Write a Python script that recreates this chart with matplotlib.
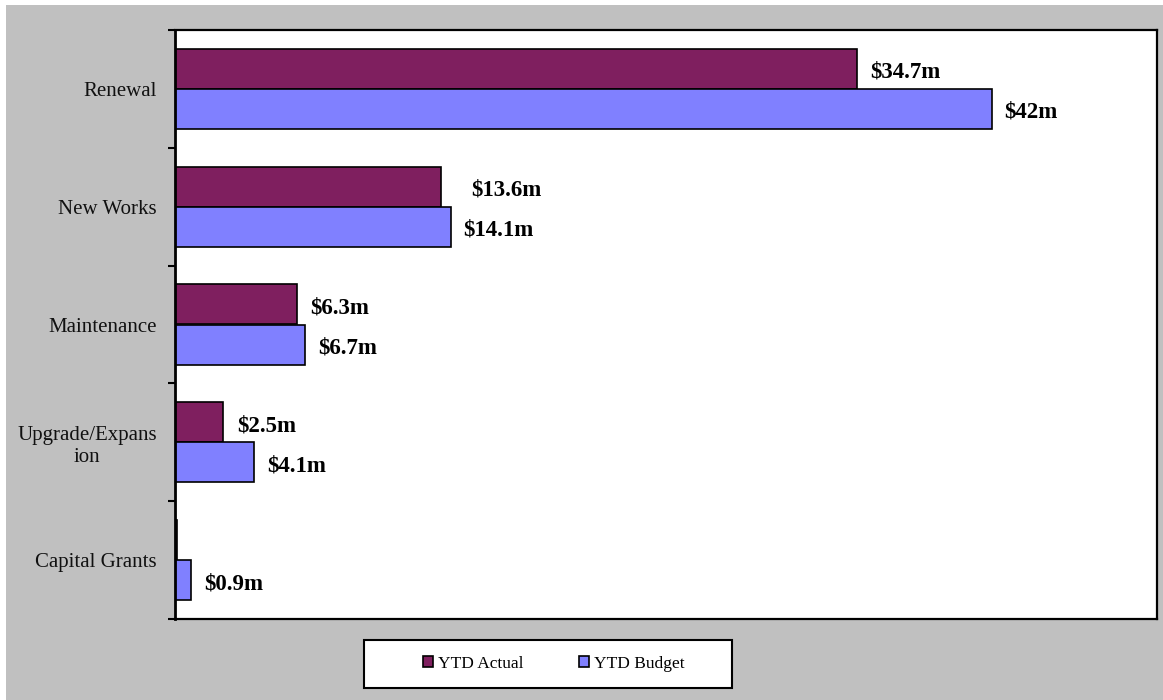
import numpy as np
import matplotlib
matplotlib.use("Agg")
from matplotlib import pyplot as plt
from matplotlib.patches import Rectangle

plt.rcParams["font.family"] = ["Liberation Serif", "DejaVu Serif"]

categories = ["Renewal", "New Works", "Maintenance", "Upgrade/Expans\nion", "Capital Grants"]
ytd_actual = [34.7, 13.55, 6.2, 2.45, 0.1]
ytd_budget = [41.6, 14.05, 6.6, 4.0, 0.8]
actual_labels = ["$34.7m", "$13.6m", "$6.3m", "$2.5m", ""]
budget_labels = ["$42m", "$14.1m", "$6.7m", "$4.1m", "$0.9m"]
actual_pad = [10, 22, 10, 10, 10]  # points right of bar end
budget_pad = [9, 9, 10, 10, 10]

c_actual = "#7F1F5F"
c_budget = "#8080FF"

fig = plt.figure(figsize=(11.63, 7.0), dpi=100)
fig.patch.set_facecolor("white")
# grey chart area (thin white strip at top/left)
fig.patches.append(Rectangle((6 / 1163, 0), 1, 1 - 5 / 700, transform=fig.transFigure,
                             facecolor="#C0C0C0", edgecolor="none", zorder=-10))

ax = fig.add_axes([175 / 1163, 1 - 619 / 700, (1157 - 175) / 1163, (619 - 30) / 700])
ax.set_facecolor("white")

y = np.arange(len(categories))
h = 0.34
ax.barh(y - h / 2, ytd_actual, height=h, color=c_actual, edgecolor="black", linewidth=1.2, label="YTD Actual")
ax.barh(y + h / 2, ytd_budget, height=h, color=c_budget, edgecolor="black", linewidth=1.2, label="YTD Budget")

for i in range(len(categories)):
    if actual_labels[i]:
        ax.annotate(actual_labels[i], (ytd_actual[i], y[i] - h / 2), xytext=(actual_pad[i], -2.5),
                    textcoords="offset points", va="center", ha="left", fontsize=16.5, fontweight="bold")
    ax.annotate(budget_labels[i], (ytd_budget[i], y[i] + h / 2), xytext=(budget_pad[i], -2.5),
                textcoords="offset points", va="center", ha="left", fontsize=16.5, fontweight="bold")

ax.set_xlim(0, 50)
ax.set_ylim(len(categories) - 0.5, -0.5)
ax.set_xticks([])
ax.set_yticks(np.arange(len(categories) + 1) - 0.5)
ax.set_yticklabels([])
ax.set_yticks(y, minor=True)
ax.set_yticklabels(categories, minor=True, fontsize=15, color="#111111", multialignment="center")
ax.tick_params(axis="y", which="major", length=5, width=1.5, direction="out")
ax.tick_params(axis="y", which="minor", length=0, pad=13)
for s in ax.spines.values():
    s.set_linewidth(1.6)
ax.spines["left"].set_linewidth(2.0)

# legend box
fig.patches.append(Rectangle((364 / 1163, 1 - 688 / 700), (732 - 364) / 1163, 48 / 700,
                             transform=fig.transFigure, facecolor="white", edgecolor="black",
                             linewidth=1.5, zorder=5))
leg = fig.legend(loc="center left", bbox_to_anchor=(423 / 1163, 1 - 664 / 700), ncol=2,
                 frameon=False, fontsize=12.5, handlelength=0.6, handleheight=0.6,
                 handletextpad=0.25, columnspacing=3.2, borderpad=0, borderaxespad=0)
leg.set_zorder(6)

fig.savefig("out.png", dpi=100, facecolor=fig.get_facecolor())
